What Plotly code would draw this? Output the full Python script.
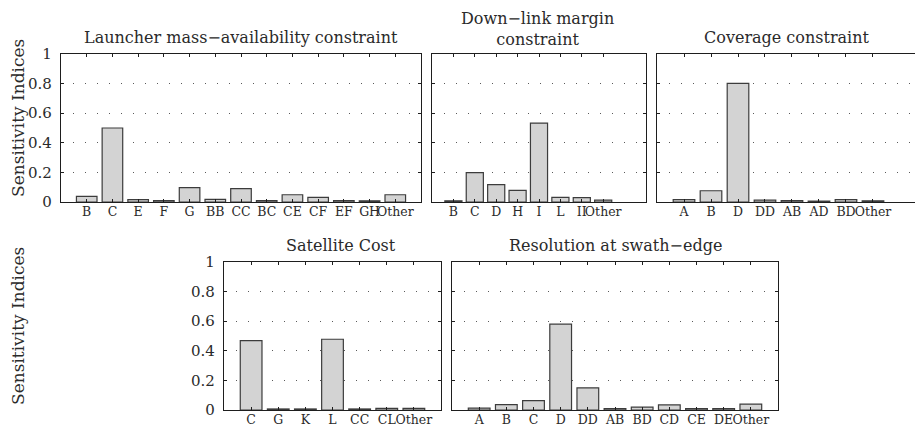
import plotly.graph_objects as go

# Sensitivity indices for each output, one bar per factor / interaction
launcher_factors = ["B", "C", "E", "F", "G", "BB", "CC", "BC", "CE", "CF", "EF", "GH", "Other"]
launcher_values = [0.038, 0.50, 0.016, 0.009, 0.097, 0.018, 0.09, 0.009, 0.049, 0.031, 0.009, 0.008, 0.049]

downlink_factors = ["B", "C", "D", "H", "I", "L", "II", "Other"]
downlink_values = [0.008, 0.198, 0.117, 0.079, 0.533, 0.031, 0.029, 0.013]

coverage_factors = ["A", "B", "D", "DD", "AB", "AD", "BD", "Other"]
coverage_values = [0.016, 0.076, 0.802, 0.013, 0.009, 0.006, 0.016, 0.008]

cost_factors = ["C", "G", "K", "L", "CC", "CL", "Other"]
cost_values = [0.469, 0.007, 0.007, 0.478, 0.007, 0.011, 0.011]

resolution_factors = ["A", "B", "C", "D", "DD", "AB", "BD", "CD", "CE", "DE", "Other"]
resolution_values = [0.013, 0.036, 0.063, 0.58, 0.15, 0.009, 0.02, 0.034, 0.009, 0.009, 0.04]

titles = [
    "Launcher mass\u2212availability constraint",
    "Down\u2212link margin<br>constraint",
    "Coverage constraint",
    "Satellite Cost",
    "Resolution at swath\u2212edge",
]
y_label = "Sensitivity Indices"
y_ticks = [0, 0.2, 0.4, 0.6, 0.8, 1]

W, H = 915, 428
FONT = "DejaVu Serif"
TEXT_COL = "#2a2a2a"
BAR_FILL = "#d3d3d3"
BAR_EDGE = "#3c3c3c"
AXIS_COL = "#1e1e1e"

# panel boxes in pixels: (left, right, top, bottom), plus x-range in category units
panels = [
    dict(f=launcher_factors, v=launcher_values, box=(61, 421, 54, 202), xr=(-1, 13), ylab=True),
    dict(f=downlink_factors, v=downlink_values, box=(432, 646, 54, 202), xr=(-1, 9), ylab=False),
    dict(f=coverage_factors, v=coverage_values, box=(657, 915, 54, 202), xr=(-1, 8.556), ylab=False),
    dict(f=cost_factors, v=cost_values, box=(224, 441, 262, 410), xr=(-1, 7), ylab=True),
    dict(f=resolution_factors, v=resolution_values, box=(452, 778, 262, 410), xr=(-1, 11), ylab=False),
]
title_pos = [(241, 38), (537, 29), (787, 38), (341, 245), (615, 245)]

fig = go.Figure()
annotations = []

for i, p in enumerate(panels, start=1):
    left, right, top, bottom = p["box"]
    xa = "x" if i == 1 else f"x{i}"
    ya = "y" if i == 1 else f"y{i}"
    fig.add_trace(go.Bar(
        x=p["f"], y=p["v"], xaxis=xa, yaxis=ya, width=0.8,
        marker=dict(color=BAR_FILL, line=dict(color=BAR_EDGE, width=1.2)),
        showlegend=False, hoverinfo="x+y",
    ))
    last = i == 3
    xkey = "xaxis" if i == 1 else f"xaxis{i}"
    ykey = "yaxis" if i == 1 else f"yaxis{i}"
    fig.update_layout({
        xkey: dict(
            domain=[left / W, right / W], anchor=ya, type="category",
            range=list(p["xr"]), showgrid=False, zeroline=False,
            showline=True, linecolor=AXIS_COL, linewidth=1.3, mirror="ticks",
            ticks="inside", ticklen=3, tickcolor=AXIS_COL, tickwidth=1,
            tickangle=0,
            tickfont=dict(family=FONT, size=12.5, color=TEXT_COL),
            ticklabelstandoff=-2, automargin=False, fixedrange=True,
        ),
        ykey: dict(
            domain=[(H - bottom) / H, (H - top) / H], anchor=xa,
            range=[0, 1], tickvals=y_ticks,
            ticktext=[f"{t:g}" for t in y_ticks] if p["ylab"] else [""] * len(y_ticks),
            showgrid=True, gridcolor="#5a5a5a", gridwidth=1, griddash="1px,11px",
            zeroline=False, showline=True, linecolor=AXIS_COL, linewidth=1.3,
            mirror=False if last else "ticks",
            ticks="inside", ticklen=3, tickcolor=AXIS_COL, tickwidth=1,
            tickfont=dict(family=FONT, size=15, color=TEXT_COL),
            ticklabelstandoff=5, automargin=False, fixedrange=True,
        ),
    })
    tx, ty = title_pos[i - 1]
    annotations.append(dict(
        text=titles[i - 1], x=tx / W, y=(H - ty) / H, xref="paper", yref="paper",
        xanchor="center", yanchor="middle", showarrow=False,
        font=dict(family=FONT, size=16, color=TEXT_COL),
    ))
    if p["ylab"]:
        annotations.append(dict(
            text=y_label, x=18 / W, y=(H - (top + bottom) / 2 + 10) / H,
            xref="paper", yref="paper", xanchor="center", yanchor="middle",
            textangle=-90, showarrow=False,
            font=dict(family=FONT, size=17, color=TEXT_COL),
        ))

fig.update_layout(
    width=W, height=H, margin=dict(l=0, r=0, t=0, b=0),
    paper_bgcolor="white", plot_bgcolor="white",
    bargap=0.2, annotations=annotations,
)

fig.write_html("out.html")
